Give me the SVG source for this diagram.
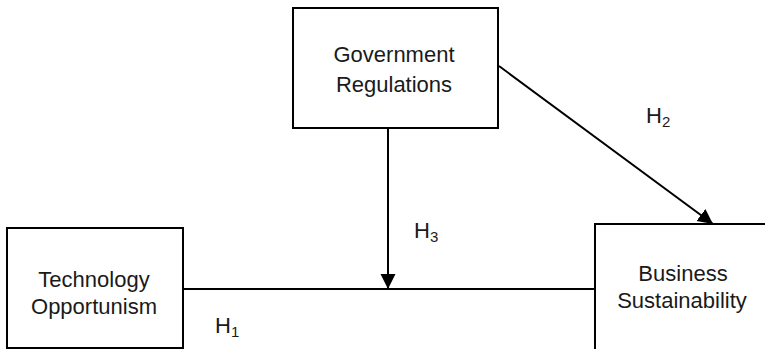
<svg xmlns="http://www.w3.org/2000/svg" width="765" height="349" viewBox="0 0 765 349">
<style>
  .box { fill: #ffffff; stroke: #000000; stroke-width: 2; }
  .lbl { font-family: "Liberation Sans", Arial, sans-serif; font-size: 22px; fill: #1a1a1a; text-anchor: middle; }
  .h { font-family: "Liberation Sans", Arial, sans-serif; font-size: 22px; fill: #1a1a1a; }
  .sub { font-size: 15px; }
  .conn { stroke: #000000; stroke-width: 2; fill: none; }
</style>
<defs>
  <marker id="arrow" markerUnits="userSpaceOnUse" markerWidth="16" markerHeight="16" viewBox="0 0 16 16" refX="15" refY="8" orient="auto">
    <path d="M0,0.5 L15,8 L0,15.5 z" fill="#000000"/>
  </marker>
</defs>
<rect width="765" height="349" fill="#ffffff"/>
<g id="connectors">
  <line class="conn" x1="183" y1="289" x2="595" y2="289"/>
  <line class="conn" x1="388" y1="128" x2="388" y2="289" marker-end="url(#arrow)"/>
  <line class="conn" x1="499" y1="66" x2="713" y2="224" marker-end="url(#arrow)"/>
</g>
<g id="gov">
  <rect class="box" x="293" y="8" width="205" height="120"/>
  <text class="lbl" x="394" y="62">Government</text>
  <text class="lbl" x="394" y="92">Regulations</text>
</g>
<g id="tech">
  <rect class="box" x="7" y="228" width="176" height="120"/>
  <text class="lbl" x="94" y="287">Technology</text>
  <text class="lbl" x="94" y="314">Opportunism</text>
</g>
<g id="biz">
  <rect class="box" x="595" y="224" width="200" height="160"/>
  <text class="lbl" x="683" y="281">Business</text>
  <text class="lbl" x="682" y="308">Sustainability</text>
</g>
<g id="labels">
  <text class="h" x="215" y="333">H<tspan class="sub" dy="4">1</tspan></text>
  <text class="h" x="414" y="238">H<tspan class="sub" dy="4">3</tspan></text>
  <text class="h" x="646" y="123">H<tspan class="sub" dy="4">2</tspan></text>
</g>
</svg>
